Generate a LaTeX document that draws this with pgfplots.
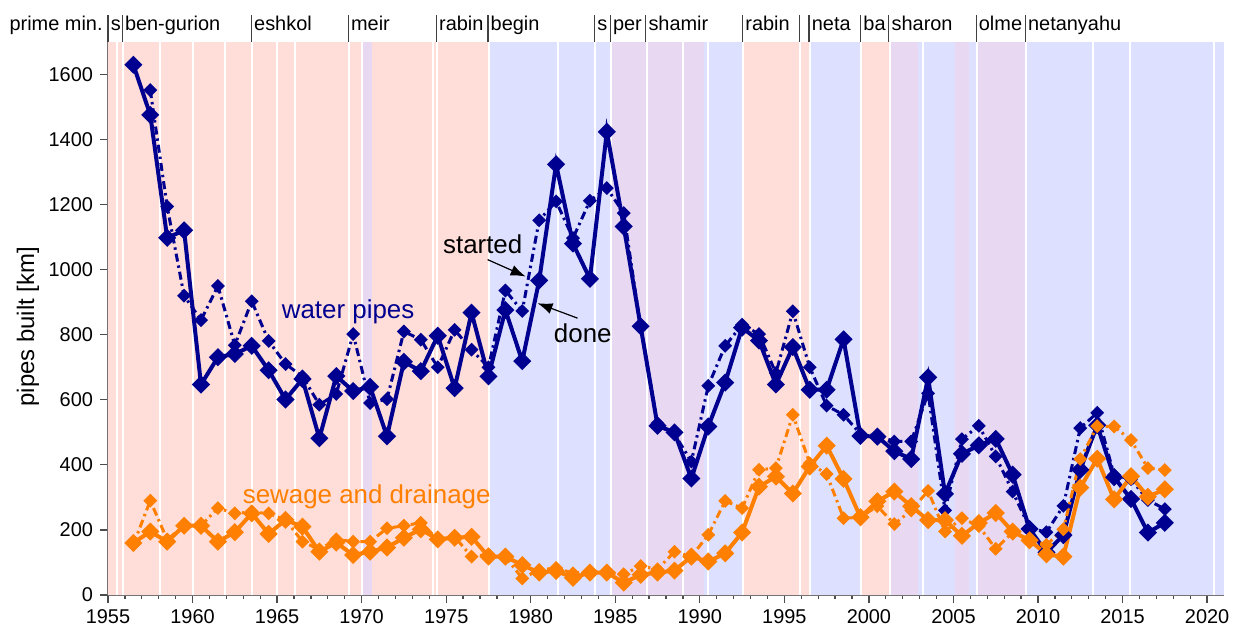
\documentclass[border=0pt]{standalone}
\usepackage{fontspec}
\setmainfont{Liberation Sans}
\usepackage{pgfplots}
\pgfplotsset{compat=1.18}
\usetikzlibrary{arrows.meta}
\definecolor{wblue}{HTML}{000090}
\definecolor{sorange}{HTML}{FF8000}
\definecolor{bgpink}{HTML}{FFDDD8}
\definecolor{bgblue}{HTML}{DDE0FF}
\definecolor{bglav}{HTML}{E8D8F2}
\newcommand{\band}[3]{\fill[#3] (axis cs:#1,0) rectangle (axis cs:#2,1700);}
\newcommand{\gov}[1]{\draw[white, line width=1bp] (axis cs:#1,0) -- (axis cs:#1,1700);}
\newcommand{\pmlab}[2]{\draw[black!75, line width=0.6bp] (axis cs:#1,1700) -- ++(0pt,13.5bp);
  \node[anchor=base west, inner sep=0pt, xshift=1.2bp, yshift=5.5bp, font=\fontsize{10}{12}\selectfont] at (axis cs:#1,1700) {#2};}

\pgfplotstableread{
x y
1956.5 1630
1957.5 1476
1958.5 1098
1959.5 1121
1960.5 647
1961.5 731
1962.5 741
1963.5 766
1964.5 691
1965.5 601
1966.5 664
1967.5 482
1968.5 673
1969.5 627
1970.5 640
1971.5 488
1972.5 717
1973.5 688
1974.5 797
1975.5 636
1976.5 868
1977.5 672
1978.5 876
1979.5 719
1980.5 967
1981.5 1324
1982.5 1080
1983.5 972
1984.5 1424
1985.5 1133
1986.5 826
1987.5 520
1988.5 500
1989.5 358
1990.5 518
1991.5 653
1992.5 822
1993.5 782
1994.5 647
1995.5 762
1996.5 631
1997.5 631
1998.5 786
1999.5 489
2000.5 487
2001.5 442
2002.5 418
2003.5 669
2004.5 311
2005.5 434
2006.5 460
2007.5 480
2008.5 370
2009.5 203
2010.5 131
2011.5 184
2012.5 385
2013.5 522
2014.5 362
2015.5 295
2016.5 192
2017.5 222
}\waterdone

\pgfplotstableread{
x y
1957.5 1552
1958.5 1194
1959.5 920
1960.5 845
1961.5 950
1962.5 768
1963.5 903
1964.5 781
1965.5 710
1966.5 672
1967.5 585
1968.5 618
1969.5 802
1970.5 590
1971.5 602
1972.5 810
1973.5 785
1974.5 700
1975.5 815
1976.5 754
1977.5 700
1978.5 936
1979.5 873
1980.5 1152
1981.5 1210
1982.5 1097
1983.5 1212
1984.5 1251
1985.5 1174
1986.5 822
1987.5 528
1988.5 495
1989.5 410
1990.5 643
1991.5 766
1992.5 831
1993.5 802
1994.5 682
1995.5 872
1996.5 700
1997.5 582
1998.5 554
1999.5 495
2000.5 490
2001.5 472
2002.5 472
2003.5 620
2004.5 260
2005.5 479
2006.5 520
2007.5 426
2008.5 318
2009.5 206
2010.5 193
2011.5 274
2012.5 513
2013.5 560
2014.5 369
2015.5 356
2016.5 292
2017.5 264
}\waterstarted

\pgfplotstableread{
x y
1956.5 160
1957.5 195
1958.5 164
1959.5 213
1960.5 213
1961.5 164
1962.5 193
1963.5 251
1964.5 188
1965.5 231
1966.5 210
1967.5 133
1968.5 161
1969.5 123
1970.5 133
1971.5 146
1972.5 176
1973.5 202
1974.5 171
1975.5 176
1976.5 179
1977.5 118
1978.5 118
1979.5 92
1980.5 69
1981.5 74
1982.5 53
1983.5 69
1984.5 69
1985.5 38
1986.5 62
1987.5 69
1988.5 75
1989.5 118
1990.5 103
1991.5 128
1992.5 192
1993.5 333
1994.5 364
1995.5 312
1996.5 395
1997.5 459
1998.5 357
1999.5 239
2000.5 288
2001.5 318
2002.5 273
2003.5 230
2004.5 230
2005.5 182
2006.5 221
2007.5 252
2008.5 195
2009.5 168
2010.5 125
2011.5 118
2012.5 330
2013.5 419
2014.5 294
2015.5 365
2016.5 302
2017.5 325
}\sewagedone

\pgfplotstableread{
x y
1956.5 155
1957.5 290
1958.5 170
1959.5 213
1960.5 213
1961.5 267
1962.5 251
1963.5 255
1964.5 251
1965.5 231
1966.5 164
1967.5 140
1968.5 171
1969.5 164
1970.5 164
1971.5 205
1972.5 213
1973.5 222
1974.5 171
1975.5 179
1976.5 118
1977.5 125
1978.5 118
1979.5 51
1980.5 77
1981.5 83
1982.5 67
1983.5 72
1984.5 69
1985.5 64
1986.5 89
1987.5 79
1988.5 133
1989.5 118
1990.5 185
1991.5 289
1992.5 267
1993.5 385
1994.5 390
1995.5 554
1996.5 405
1997.5 372
1998.5 236
1999.5 239
2000.5 273
2001.5 218
2002.5 260
2003.5 320
2004.5 195
2005.5 236
2006.5 212
2007.5 142
2008.5 192
2009.5 170
2010.5 154
2011.5 202
2012.5 418
2013.5 519
2014.5 518
2015.5 476
2016.5 390
2017.5 384
}\sewagestarted

\begin{document}
\begin{tikzpicture}
\begin{axis}[
  scale only axis, width=558bp, height=276.5bp,
  xmin=1955, xmax=2021, ymin=0, ymax=1700,
  axis x line*=bottom, axis y line*=left,
  axis line style={draw=black!55, line width=0.7bp},
  xtick={1955,1960,...,2020}, minor x tick num=4,
  ytick={0,200,...,1600},
  tick align=outside,
  major tick length=4bp, minor tick length=2bp,
  every tick/.style={black!70, line width=0.6bp},
  tick label style={font=\fontsize{10}{12}\selectfont},
  /pgf/number format/assume math mode=true,
  /pgf/number format/1000 sep={},
  ylabel={pipes built [km]},
  ylabel style={font=\fontsize{12}{14}\selectfont, at={(axis description cs:-0.0717,0.485)}, anchor=center},
  clip=false,
]
\band{1955}{1970.0}{bgpink}
\band{1970.0}{1970.64}{bglav}
\band{1970.64}{1977.52}{bgpink}
\band{1977.52}{1984.75}{bgblue}
\band{1984.75}{1990.25}{bglav}
\band{1990.25}{1992.58}{bgblue}
\band{1992.58}{1996.51}{bgpink}
\band{1996.51}{1999.56}{bgblue}
\band{1999.56}{2001.23}{bgpink}
\band{2001.23}{2002.89}{bglav}
\band{2002.89}{2005.08}{bgblue}
\band{2005.08}{2005.94}{bglav}
\band{2005.94}{2006.39}{bgblue}
\band{2006.39}{2009.30}{bglav}
\band{2009.30}{2021}{bgblue}
\gov{1955.55}\gov{1955.9}\gov{1958.07}\gov{1960.01}\gov{1961.9}\gov{1963.53}
\gov{1965.02}\gov{1966.08}\gov{1969.26}\gov{1970.0}\gov{1974.24}\gov{1974.47}
\gov{1977.52}\gov{1981.64}\gov{1983.83}\gov{1984.75}\gov{1986.85}\gov{1989.02}
\gov{1990.49}\gov{1992.58}\gov{1995.94}\gov{1996.51}\gov{1999.56}\gov{2001.23}
\gov{2003.21}\gov{2006.39}\gov{2009.30}\gov{2013.26}\gov{2015.42}\gov{2020.43}

\addplot[wblue, line width=1.5bp, dash pattern=on 4bp off 2bp on 1.2bp off 2bp,
  mark=square*, mark size=1.7bp, mark options={solid, rotate=45}] table {\waterstarted};
\addplot[wblue, line width=2bp, mark=square*, mark size=2.2bp, mark options={solid, rotate=45}] table {\waterdone};
\addplot[sorange, line width=1.5bp, dash pattern=on 4bp off 2bp on 1.2bp off 2bp,
  mark=square*, mark size=1.7bp, mark options={solid, rotate=45}] table {\sewagestarted};
\addplot[sorange, line width=2bp, mark=square*, mark size=2.2bp, mark options={solid, rotate=45}] table {\sewagedone};

\node[text=wblue, font=\fontsize{13}{15}\selectfont] at (axis cs:1969.2,872) {water pipes};
\node[text=sorange, font=\fontsize{13}{15}\selectfont] at (axis cs:1970.3,302) {sewage and drainage};
\node[font=\fontsize{13}{15}\selectfont] at (axis cs:1977.16,1077) {started};
\draw[line width=0.6bp, -{Latex[length=7.5bp,width=5.5bp]}] (axis cs:1977.45,1031) -- (axis cs:1979.7,979);
\node[font=\fontsize{13}{15}\selectfont] at (axis cs:1983.08,806) {done};
\draw[line width=0.6bp, -{Latex[length=7.5bp,width=5.5bp]}] (axis cs:1982.77,851) -- (axis cs:1980.4,897);

\pmlab{1955}{s}\pmlab{1955.84}{ben-gurion}\pmlab{1963.48}{eshkol}\pmlab{1969.21}{meir}
\pmlab{1974.42}{rabin}\pmlab{1977.47}{begin}\pmlab{1983.78}{s}\pmlab{1984.70}{per}
\pmlab{1986.80}{shamir}\pmlab{1992.53}{rabin}\pmlab{1995.89}{}\pmlab{1996.46}{neta}
\pmlab{1999.51}{ba}\pmlab{2001.18}{sharon}\pmlab{2006.34}{olme}\pmlab{2009.25}{netanyahu}
\node[anchor=base east, inner sep=0pt, xshift=-2.5bp, yshift=5.5bp, font=\fontsize{10}{12}\selectfont] at (axis cs:1955,1700) {prime min.};

\coordinate (SW) at (rel axis cs:0,0);
\coordinate (NE) at (rel axis cs:1,1);
\end{axis}
\pgfresetboundingbox
\path[use as bounding box] ([shift={(-54bp,-16.5bp)}]SW) rectangle ([shift={(6bp,21bp)}]NE);
\end{tikzpicture}
\end{document}
